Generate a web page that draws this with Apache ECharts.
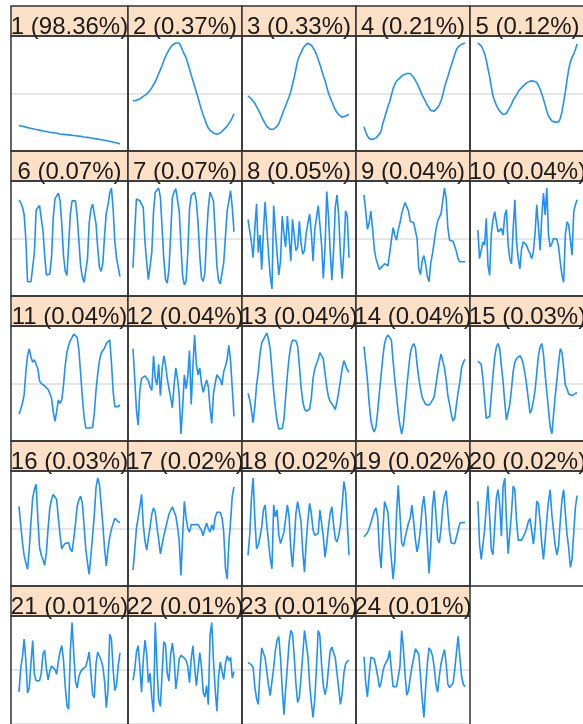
<!DOCTYPE html>
<html>
<head>
<meta charset="utf-8">
<script src="https://cdn.jsdelivr.net/npm/echarts@6/dist/echarts.min.js"></script>
<style>
  html, body { margin: 0; padding: 0; background: #ffffff; }
  #chart { width: 583px; height: 724px; }
</style>
</head>
<body>
<div id="chart"></div>
<script>
// Share of variance carried by each eigenvector (percent)
const variancePct = [98.36, 0.37, 0.33, 0.21, 0.12, 0.07, 0.07, 0.05, 0.04, 0.04,
                     0.04, 0.04, 0.04, 0.04, 0.03, 0.03, 0.02, 0.02, 0.02, 0.02,
                     0.01, 0.01, 0.01, 0.01];

// Eigenvector loadings, one array per component (lag 1 .. 60)
const ev1 = [-0.160,-0.162,-0.164,-0.166,-0.168,-0.170,-0.172,-0.174,-0.176,-0.178,
  -0.180,-0.181,-0.183,-0.185,-0.187,-0.189,-0.190,-0.192,-0.194,-0.195,
  -0.196,-0.198,-0.199,-0.200,-0.202,-0.203,-0.204,-0.205,-0.206,-0.207,
  -0.208,-0.209,-0.210,-0.211,-0.212,-0.213,-0.214,-0.215,-0.217,-0.218,
  -0.219,-0.221,-0.222,-0.224,-0.225,-0.227,-0.228,-0.230,-0.231,-0.233,
  -0.234,-0.236,-0.237,-0.239,-0.241,-0.243,-0.245,-0.247,-0.249,-0.252];
const ev2 = [-0.037,-0.037,-0.035,-0.033,-0.028,-0.022,-0.015,-0.008,-0.003,0.007,
  0.017,0.030,0.038,0.060,0.080,0.102,0.122,0.143,0.168,0.188,
  0.207,0.223,0.237,0.248,0.255,0.258,0.258,0.258,0.242,0.220,
  0.200,0.183,0.155,0.125,0.095,0.067,0.037,0.008,-0.022,-0.053,
  -0.083,-0.110,-0.133,-0.158,-0.177,-0.188,-0.195,-0.202,-0.207,-0.208,
  -0.207,-0.202,-0.195,-0.185,-0.177,-0.167,-0.157,-0.140,-0.123,-0.103];
const ev3 = [-0.012,-0.020,-0.028,-0.037,-0.050,-0.067,-0.082,-0.100,-0.120,-0.138,
  -0.153,-0.168,-0.178,-0.183,-0.187,-0.183,-0.177,-0.167,-0.155,-0.130,
  -0.107,-0.083,-0.063,-0.040,-0.017,0.010,0.047,0.083,0.125,0.167,
  0.192,0.208,0.228,0.242,0.250,0.258,0.253,0.247,0.233,0.220,
  0.200,0.175,0.150,0.120,0.092,0.067,0.033,0.003,-0.020,-0.042,
  -0.063,-0.083,-0.097,-0.108,-0.117,-0.122,-0.120,-0.115,-0.112,-0.108];
const ev4 = [-0.170,-0.197,-0.217,-0.230,-0.235,-0.235,-0.233,-0.227,-0.218,-0.208,
  -0.192,-0.153,-0.125,-0.095,-0.067,-0.042,-0.008,0.025,0.047,0.063,
  0.072,0.080,0.088,0.095,0.098,0.102,0.102,0.102,0.098,0.083,
  0.067,0.052,0.033,0.012,-0.008,-0.025,-0.042,-0.060,-0.073,-0.087,
  -0.095,-0.090,-0.083,-0.072,-0.058,-0.037,-0.008,0.030,0.060,0.087,
  0.117,0.145,0.172,0.200,0.225,0.238,0.247,0.252,0.255,0.258];
const ev5 = [0.252,0.247,0.238,0.220,0.200,0.167,0.125,0.083,0.033,-0.013,
  -0.037,-0.058,-0.075,-0.088,-0.097,-0.105,-0.108,-0.100,-0.083,-0.070,
  -0.053,-0.033,-0.020,-0.007,0.010,0.020,0.028,0.038,0.047,0.053,
  0.058,0.062,0.063,0.063,0.060,0.055,0.040,0.022,-0.003,-0.028,
  -0.058,-0.087,-0.112,-0.125,-0.137,-0.142,-0.143,-0.143,-0.142,-0.125,
  -0.092,-0.042,0.008,0.067,0.120,0.158,0.180,0.197,0.220,0.247];
const ev6 = [0.187,0.175,0.153,0.117,-0.005,-0.210,-0.210,-0.210,-0.210,-0.067,
  0.137,0.150,0.160,0.167,0.037,-0.083,-0.177,-0.180,-0.172,-0.092,
  0.100,0.192,0.207,0.220,0.183,0.070,-0.083,-0.158,-0.180,-0.033,
  0.120,0.183,0.183,0.183,0.108,-0.013,-0.133,-0.187,-0.213,-0.208,
  -0.100,0.075,0.142,0.167,0.167,0.070,-0.047,-0.142,-0.160,-0.117,
  0.017,0.125,0.163,0.220,0.245,0.142,-0.017,-0.097,-0.142,-0.185];
const ev7 = [-0.142,0.033,0.192,0.187,0.183,0.180,0.150,-0.017,-0.117,-0.200,
  -0.208,-0.067,0.133,0.225,0.233,0.245,0.200,0.050,-0.100,-0.200,
  -0.217,-0.150,0.017,0.200,0.225,0.242,0.242,0.133,-0.033,-0.183,
  -0.225,-0.208,-0.067,0.142,0.208,0.217,0.225,0.183,0.075,-0.083,
  -0.192,-0.208,-0.167,0.017,0.150,0.225,0.233,0.183,0.033,-0.133,
  -0.203,-0.220,-0.217,-0.117,0.008,0.133,0.183,0.233,0.150,0.033];
const ev8 = [0.092,0.083,-0.017,-0.092,0.050,0.167,-0.067,0.017,-0.150,0.033,
  0.175,0.167,-0.075,-0.183,-0.242,0.158,0.150,-0.075,-0.175,-0.108,
  0.108,0.025,-0.042,0.108,0.008,-0.108,0.092,0.092,-0.058,-0.042,
  0.083,-0.025,-0.075,-0.058,0.025,0.075,0.117,0.025,-0.108,0.042,
  0.042,0.158,0.067,-0.033,-0.192,-0.042,0.225,0.108,-0.058,-0.200,
  -0.058,0.150,0.208,0.108,-0.075,-0.192,-0.058,0.133,0.108,-0.092];
const ev9 = [0.212,0.133,0.045,0.075,0.133,0.050,-0.050,-0.097,-0.125,-0.150,
  -0.153,-0.133,-0.122,-0.113,-0.133,-0.138,-0.008,0.053,0.017,-0.008,
  0.042,0.075,0.120,0.150,0.175,0.180,0.133,0.083,0.078,0.078,
  0.078,0.000,-0.147,-0.175,-0.108,-0.083,-0.125,-0.183,-0.210,-0.117,
  -0.075,-0.017,0.042,0.083,0.103,0.120,0.183,0.245,0.195,0.050,
  -0.008,-0.010,-0.013,-0.038,-0.063,-0.100,-0.113,-0.113,-0.113,-0.113];
const ev10 = [0.042,-0.100,-0.100,-0.017,-0.033,0.100,-0.133,-0.183,0.025,0.092,
  0.133,0.083,0.033,0.042,0.050,0.017,0.117,0.142,-0.033,-0.100,
  -0.125,0.050,0.192,-0.017,-0.100,-0.150,-0.050,-0.017,-0.008,-0.033,
  -0.058,-0.075,-0.100,-0.067,0.025,0.167,0.058,-0.058,0.108,0.225,
  0.117,0.250,0.017,-0.042,-0.025,0.000,-0.008,-0.003,-0.042,-0.117,
  -0.183,-0.217,0.017,0.083,0.067,0.067,-0.083,0.133,0.167,0.192];
const ev11 = [-0.155,-0.130,-0.100,-0.058,0.058,0.142,0.175,0.133,0.108,0.120,
  0.125,0.075,0.013,0.000,-0.005,-0.012,-0.020,-0.030,-0.050,-0.075,
  -0.142,-0.192,-0.142,-0.083,-0.100,-0.083,-0.008,0.092,0.158,0.192,
  0.217,0.233,0.250,0.255,0.233,0.167,0.050,-0.067,-0.167,-0.225,
  -0.220,-0.225,-0.225,-0.222,-0.150,-0.033,0.050,0.117,0.153,0.167,
  0.180,0.203,0.208,0.220,0.108,-0.042,-0.117,-0.125,-0.117,-0.108];
const ev12 = [0.167,0.025,-0.125,-0.200,-0.033,0.025,0.033,0.037,0.042,0.013,
  -0.017,-0.033,0.133,0.025,-0.008,0.092,-0.058,0.067,0.133,0.092,
  0.025,-0.025,-0.067,-0.117,-0.008,0.075,0.025,-0.058,-0.242,-0.117,
  0.042,-0.025,0.033,0.158,-0.100,0.083,0.233,0.092,0.042,0.075,
  0.000,-0.042,-0.042,0.017,-0.017,-0.117,-0.192,-0.050,0.000,0.042,
  0.030,0.020,-0.008,0.058,0.083,0.117,0.183,0.108,-0.025,-0.158];
const ev13 = [-0.050,-0.083,-0.137,-0.200,-0.117,-0.008,0.058,0.150,0.208,0.225,
  0.242,0.258,0.225,0.175,0.067,-0.042,-0.125,-0.192,-0.233,-0.238,
  -0.230,-0.183,-0.067,0.042,0.133,0.192,0.222,0.222,0.217,0.192,
  0.092,-0.017,-0.092,-0.130,-0.142,-0.142,-0.130,-0.075,0.025,0.075,
  0.100,0.125,0.158,0.167,0.125,0.050,-0.017,-0.067,-0.092,-0.103,
  -0.117,-0.133,-0.092,-0.042,0.017,0.075,0.117,0.108,0.070,0.058];
const ev14 = [0.178,0.100,0.017,-0.092,-0.175,-0.213,-0.233,-0.208,-0.133,-0.042,
  0.042,0.125,0.192,0.220,0.233,0.238,0.208,0.108,0.017,-0.058,
  -0.142,-0.200,-0.242,-0.200,-0.108,-0.017,0.067,0.142,0.175,0.192,
  0.175,0.092,0.025,-0.025,-0.067,-0.083,-0.100,-0.107,-0.103,-0.093,
  -0.080,-0.063,-0.008,0.050,0.100,0.142,0.133,0.075,0.017,-0.058,
  -0.100,-0.147,-0.180,-0.167,-0.100,-0.042,0.008,0.075,0.100,0.117];
const ev15 = [0.108,0.100,0.092,0.025,-0.075,-0.167,-0.162,-0.158,-0.058,0.042,
  0.125,0.175,0.192,0.167,0.083,0.008,-0.092,-0.175,-0.167,-0.100,
  -0.025,0.058,0.103,0.120,0.128,0.133,0.120,0.092,0.047,-0.008,
  -0.075,-0.142,-0.125,-0.083,-0.033,0.050,0.133,0.175,0.192,0.142,
  0.042,-0.042,-0.125,-0.208,-0.242,-0.150,-0.058,0.017,0.100,0.167,
  0.150,0.075,-0.008,-0.025,-0.050,-0.055,-0.058,-0.053,-0.047,-0.045];
const ev16 = [0.108,0.017,-0.067,-0.133,-0.167,-0.200,-0.100,0.033,0.150,0.192,
  0.217,0.050,-0.092,-0.130,-0.153,-0.180,-0.117,0.000,0.100,0.142,
  0.167,0.158,0.142,0.050,-0.033,-0.100,-0.083,-0.073,-0.067,-0.070,
  -0.103,-0.113,-0.050,0.025,0.108,0.142,0.158,0.125,0.017,-0.100,
  -0.167,-0.225,-0.133,-0.033,0.067,0.200,0.247,0.217,0.117,0.017,
  -0.100,-0.183,-0.100,-0.042,-0.003,0.025,0.050,0.042,0.033,0.030];
const ev17 = [-0.192,-0.100,0.000,0.050,0.100,0.158,0.017,-0.058,-0.100,-0.042,
  0.008,0.067,0.095,0.075,0.008,-0.050,-0.117,-0.075,-0.033,0.000,
  0.033,0.067,0.083,0.100,0.092,0.058,0.008,-0.058,-0.217,-0.033,
  0.125,0.050,0.000,-0.017,0.017,0.017,0.018,0.020,0.018,0.017,
  -0.008,-0.033,0.000,0.025,0.000,-0.017,0.017,-0.008,0.050,0.075,
  0.075,0.075,0.050,-0.017,-0.183,-0.233,-0.067,0.033,0.150,0.192];
const ev18 = [-0.133,-0.033,0.150,0.250,0.050,-0.100,-0.083,-0.042,0.008,0.092,
  0.117,0.017,-0.067,-0.150,-0.200,0.117,0.058,0.092,-0.033,-0.075,
  -0.075,-0.017,0.050,0.117,0.058,-0.100,-0.192,-0.067,0.075,0.133,
  0.142,0.033,-0.117,-0.217,-0.067,0.042,0.125,0.075,-0.008,-0.033,
  -0.037,-0.025,0.092,0.083,-0.042,-0.142,-0.075,0.008,0.075,0.108,
  0.017,-0.050,-0.067,-0.033,0.017,0.117,0.233,0.183,0.033,-0.133];
const ev19 = [-0.038,-0.033,-0.020,0.000,0.025,0.053,0.080,0.095,0.050,-0.100,
  -0.183,-0.017,0.125,0.130,0.075,-0.050,-0.142,-0.233,-0.150,0.067,
  0.200,0.067,-0.067,-0.083,-0.042,-0.008,0.025,0.047,0.108,0.033,
  -0.050,-0.108,-0.067,0.000,0.100,0.150,0.067,-0.067,-0.208,-0.083,
  0.100,0.175,0.067,-0.050,-0.067,0.000,0.100,0.150,0.175,0.075,
  -0.017,-0.067,-0.070,-0.070,-0.063,-0.008,0.025,0.028,0.028,0.028];
const ev20 = [0.117,-0.067,-0.133,-0.125,-0.008,0.092,0.183,0.050,-0.092,-0.113,
  0.008,0.133,0.167,0.100,-0.033,0.183,0.217,0.033,-0.108,-0.108,
  0.067,0.183,0.167,0.033,-0.050,-0.050,-0.050,-0.043,-0.020,0.000,
  0.030,0.042,-0.008,-0.067,0.000,0.117,0.108,0.033,-0.067,-0.133,
  -0.050,0.042,0.117,0.167,0.058,-0.008,-0.075,-0.113,-0.075,0.033,
  0.125,0.167,0.067,-0.025,-0.083,-0.167,-0.133,-0.017,0.092,0.142];
const ev21 = [-0.113,0.008,0.067,0.158,0.050,-0.117,-0.092,0.033,0.150,-0.022,
  -0.055,-0.055,-0.055,-0.017,0.083,0.100,0.008,-0.050,-0.005,0.020,
  0.028,0.003,-0.022,0.045,0.095,0.125,0.050,-0.083,-0.183,-0.200,
  0.100,0.242,0.083,-0.058,-0.092,-0.033,-0.008,0.003,0.008,0.017,
  0.050,0.092,-0.017,-0.125,-0.142,0.033,0.092,0.083,0.050,0.017,
  -0.058,-0.192,-0.100,0.183,0.158,0.000,-0.105,-0.075,0.025,0.087];
const ev22 = [-0.055,0.000,0.095,0.128,0.017,-0.117,0.050,0.158,0.083,-0.067,
  -0.017,-0.150,-0.222,0.250,0.017,-0.158,-0.192,-0.017,0.150,0.133,
  -0.017,-0.058,0.083,0.142,0.067,-0.100,-0.033,0.058,0.078,0.075,
  0.063,0.050,0.020,-0.067,0.058,0.128,0.017,-0.083,0.000,0.092,
  0.017,-0.117,-0.142,-0.083,-0.183,0.183,0.250,0.050,-0.100,-0.217,
  -0.033,0.042,-0.008,-0.050,0.033,0.075,0.050,0.067,-0.042,-0.008];
const ev23 = [0.037,0.030,0.025,0.012,-0.083,-0.138,-0.167,-0.008,0.108,0.108,
  0.058,-0.008,-0.075,-0.125,-0.055,0.012,0.095,0.145,0.162,0.058,
  -0.092,-0.217,-0.092,0.017,0.133,0.192,0.175,0.067,-0.067,-0.158,
  -0.133,-0.033,0.075,0.192,0.192,0.067,-0.067,-0.158,-0.230,-0.142,
  0.012,0.192,0.167,0.025,-0.075,-0.120,-0.083,0.008,0.092,0.112,
  0.112,0.058,-0.017,-0.092,-0.167,-0.117,-0.017,0.030,0.042,0.048];
const ev24 = [0.070,-0.067,-0.142,-0.033,0.067,0.075,0.058,0.017,-0.033,-0.092,
  -0.067,-0.008,0.025,0.042,0.058,0.103,0.000,-0.088,-0.088,-0.088,
  -0.088,0.017,0.208,0.117,-0.025,-0.133,-0.108,-0.042,0.017,0.062,
  0.112,0.112,0.083,-0.033,-0.158,-0.250,-0.092,0.033,0.117,0.103,
  0.075,0.017,-0.075,-0.117,-0.033,0.033,0.075,0.108,0.033,-0.075,
  -0.093,-0.087,-0.070,0.000,0.092,0.178,0.067,-0.033,-0.075,-0.088];

const eigenvectors = [ev1, ev2, ev3, ev4, ev5, ev6, ev7, ev8, ev9, ev10, ev11, ev12,
                      ev13, ev14, ev15, ev16, ev17, ev18, ev19, ev20, ev21, ev22, ev23, ev24];

// Panel layout (pixels): 5 columns of small multiples, header strip above each plot
const colEdges = [11, 128, 242, 356, 470, 585];
const rowTops = [6, 151, 296, 441, 586];
const headerH = 30;
const plotH = 115;
const traceLeft = [19, 133, 248, 364, 478];
const traceW = 101;
const headroom = 1.14;

const chart = echarts.init(document.getElementById('chart'), null, { renderer: 'canvas' });

const grids = [], xAxes = [], yAxes = [], series = [], headers = [], labels = [], frames = [];

eigenvectors.forEach((vals, k) => {
  const r = Math.floor(k / 5), c = k % 5;
  const left = colEdges[c], right = colEdges[c + 1], w = right - left;
  const top = rowTops[r];
  const n = vals.length;
  const step = traceW / (n - 1);
  const m = Math.max(...vals.map(Math.abs)) * headroom;

  grids.push({ left: left, top: top + headerH, width: w, height: plotH, containLabel: false });
  xAxes.push({
    gridIndex: k, type: 'value', show: false,
    min: -(traceLeft[c] - left) / step,
    max: (right - traceLeft[c]) / step
  });
  yAxes.push({
    gridIndex: k, type: 'value', min: -m, max: m, interval: m,
    axisLine: { show: false }, axisTick: { show: false }, axisLabel: { show: false },
    splitLine: { show: true, lineStyle: { color: '#e6e6e6', width: 2 } }
  });
  series.push({
    type: 'line', xAxisIndex: k, yAxisIndex: k,
    data: vals.map((v, i) => [i, v]),
    showSymbol: false, symbol: 'none',
    lineStyle: { color: '#1E90FF', width: 1.6 },
    animation: false, silent: true
  });

  headers.push({
    type: 'rect', z: 10,
    shape: { x: left, y: top, width: w, height: headerH },
    style: { fill: '#FCE0C6', stroke: '#333333', lineWidth: 1.5 }
  });
  frames.push({
    type: 'rect', z: 12,
    shape: { x: left, y: top + headerH, width: w, height: plotH },
    style: { fill: 'none', stroke: '#333333', lineWidth: 1.5 }
  });
  labels.push({
    type: 'text', z: 11,
    style: {
      text: (k + 1) + ' (' + variancePct[k].toFixed(2) + '%)',
      x: left + w / 2, y: top + headerH / 2 + 6,
      align: 'center', verticalAlign: 'middle',
      font: '24px "Liberation Sans", Arial, sans-serif',
      fill: '#1a1a1a'
    }
  });
});

chart.setOption({
  animation: false,
  backgroundColor: '#ffffff',
  grid: grids,
  xAxis: xAxes,
  yAxis: yAxes,
  series: series,
  graphic: headers.concat(labels, frames)
});
</script>
</body>
</html>
